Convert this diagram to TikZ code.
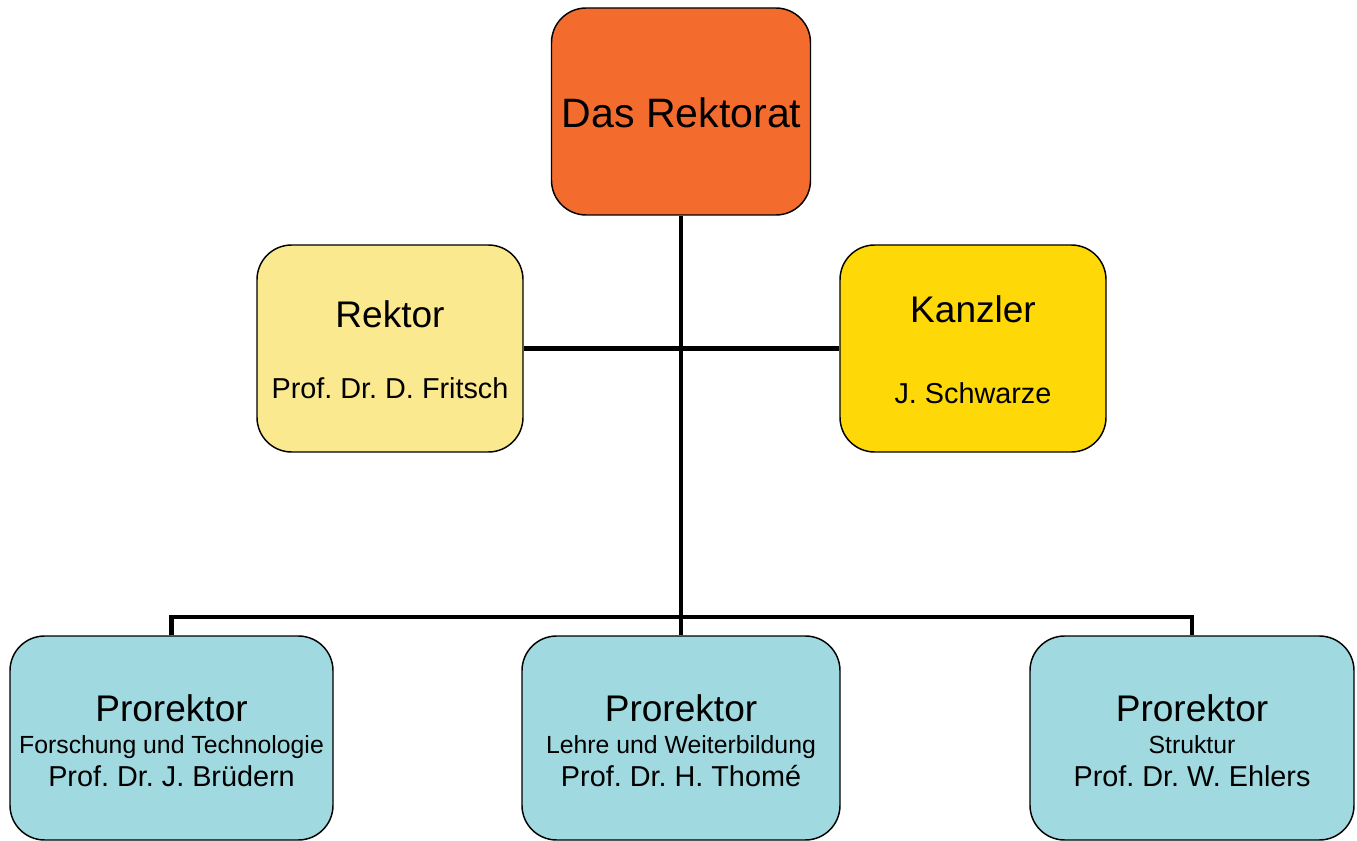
\documentclass[tikz,border=0pt]{standalone}
\usepackage{fontspec}
\setmainfont{Liberation Sans}
\frenchspacing
\definecolor{orangebox}{HTML}{F36C2E}
\definecolor{paleyellow}{HTML}{FBE98F}
\definecolor{goldbox}{HTML}{FFD808}
\definecolor{cyanbox}{HTML}{A0D9DF}
\tikzset{
  orgbox/.style={draw=black, line width=1.1pt, rounded corners=26pt, inner sep=0pt},
  conn/.style={draw=black, line width=3.5pt},
  titletxt/.style={font=\fontsize{30.8}{36}\selectfont, anchor=base, inner sep=0pt},
  headtxt/.style={font=\fontsize{27.8}{33}\selectfont, anchor=base, inner sep=0pt},
  persontxt/.style={font=\fontsize{21.6}{26}\selectfont, anchor=base, inner sep=0pt},
  subtxt/.style={font=\fontsize{18.6}{22}\selectfont, anchor=base, inner sep=0pt},
}
\begin{document}
\begin{tikzpicture}[x=0.75pt, y=-0.75pt]
\useasboundingbox (0,0) rectangle (1357,841);
% boxes
\node[orgbox, fill=orangebox, minimum width=259*0.75pt, minimum height=207*0.75pt] (rektorat) at (681,111.5) {};
\node[orgbox, fill=paleyellow, minimum width=266*0.75pt, minimum height=207*0.75pt] (rektor) at (390,348.5) {};
\node[orgbox, fill=goldbox, minimum width=266*0.75pt, minimum height=207*0.75pt] (kanzler) at (973,348.5) {};
\node[orgbox, fill=cyanbox, minimum width=323*0.75pt, minimum height=204*0.75pt] (p1) at (171.5,738) {};
\node[orgbox, fill=cyanbox, minimum width=318*0.75pt, minimum height=204*0.75pt] (p2) at (681,738) {};
\node[orgbox, fill=cyanbox, minimum width=324*0.75pt, minimum height=204*0.75pt] (p3) at (1192,738) {};
% connectors
\coordinate (junction) at (681,617);
\draw[conn] (rektor.east) -- (kanzler.west);
\draw[conn] (rektorat.south) -- (p2.north);
\draw[conn] (p1.north) |- (junction) -| (p3.north);
% texts
\node[titletxt] (t0) at (681.5,128) {Das Rektorat};
\node[headtxt] (t1) at (390,328) {Rektor};
\node[persontxt] (t2) at (390,399) {Prof. Dr. D. Fritsch};
\node[headtxt] (t3) at (973,323) {Kanzler};
\node[persontxt] (t4) at (973,404) {J. Schwarze};
\node[headtxt] (a1) at (171.5,721) {Prorektor};
\node[subtxt] (a2) at (171.5,753) {Forschung und Technologie};
\node[persontxt] (a3) at (171.5,786) {Prof. Dr. J. Brüdern};
\node[headtxt] (b1) at (681,721) {Prorektor};
\node[subtxt] (b2) at (681,753) {Lehre und Weiterbildung};
\node[persontxt] (b3) at (681,786) {Prof. Dr. H. Thomé};
\node[headtxt] (c1) at (1192,721) {Prorektor};
\node[subtxt] (c2) at (1192,753) {Struktur};
\node[persontxt] (c3) at (1192,786) {Prof. Dr. W. Ehlers};
\end{tikzpicture}
\end{document}
